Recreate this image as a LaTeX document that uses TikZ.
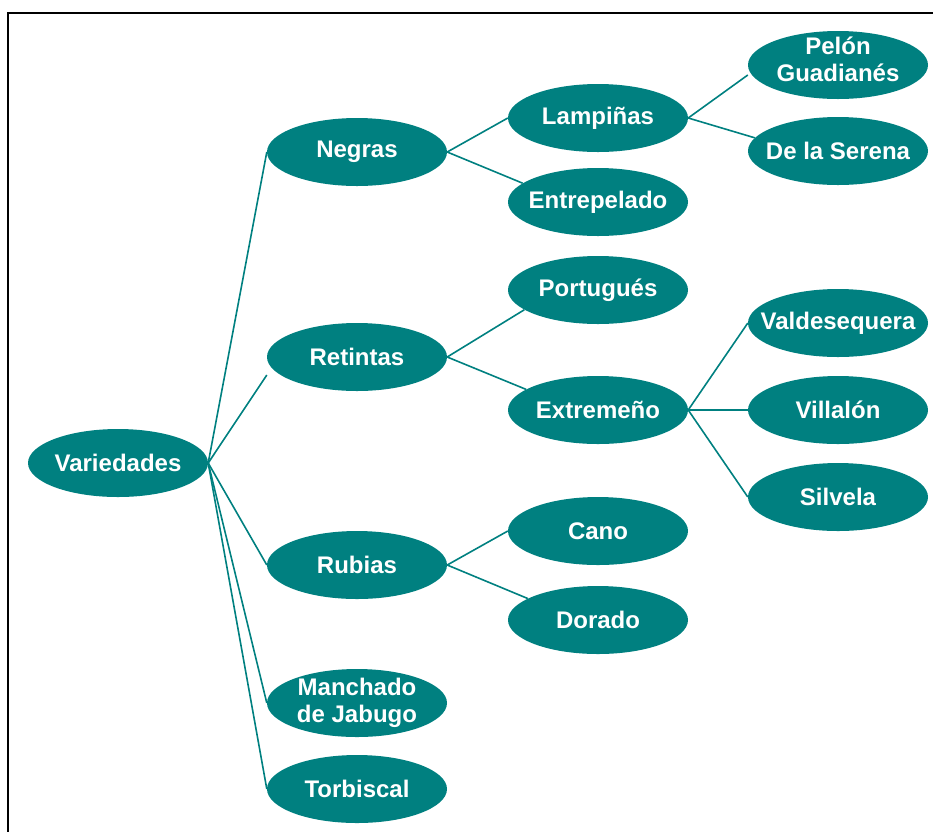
\documentclass[tikz,border=0pt]{standalone}
\usepackage{fontspec}
\setmainfont{Liberation Sans}
\usetikzlibrary{shapes.geometric,backgrounds}
\definecolor{tealc}{RGB}{0,128,128}
\tikzset{
  vtext/.style={text=white, align=center, inner sep=0pt,
    font=\fontsize{24pt}{27pt}\selectfont\bfseries},
  vnode/.style={vtext, ellipse, fill=tealc, draw=none, minimum width=180pt, minimum height=68pt,
    inner xsep=-30pt, inner ysep=-12pt},
  conn/.style={draw=tealc, line width=1.6pt}
}
\begin{document}
\begin{tikzpicture}[x=1pt,y=-1pt]
\useasboundingbox (0,0) rectangle (933,831);
\clip (0,0) rectangle (933,831);
\draw[line width=1.6pt] (8,13) rectangle (960,860);
\node[vnode] (var) at (118,463) {Variedades};
\node[vnode] (neg) at (357,152) {Negras};
\node[vnode] (ret) at (357,357) {Retintas};
\node[vnode] (rub) at (357,565) {Rubias};
\node[vnode] (man) at (357,703) {Manchado\\de Jabugo};
\node[vnode] (tor) at (357,789) {Torbiscal};
\node[vnode] (lam) at (598,118) {Lampiñas};
\node[vnode] (ent) at (598,202) {Entrepelado};
\node[vnode] (por) at (598,290) {Portugués};
\node[vnode] (ext) at (598,410) {Extremeño};
\node[vnode] (can) at (598,531) {Cano};
\node[vnode] (dor) at (598,620) {Dorado};
\node[vnode] (pel) at (838,65) {};
\node[vtext] (pelt) at (838,59) {Pelón\\Guadianés};
\node[vnode] (ser) at (838,151) {De la Serena};
\node[vnode] (val) at (838,323) {Valdesequera};
\node[vnode] (vil) at (838,410) {Villalón};
\node[vnode] (sil) at (838,497) {Silvela};
\begin{pgfonlayer}{background}
\draw[conn] (var.east) -- (neg.west);
\draw[conn] (var.east) -- ([yshift=-18pt]ret.west);
\foreach \c in {rub,man,tor} \draw[conn] (var.east) -- (\c.west);
\draw[conn] (neg.east) -- (lam.west);
\draw[conn] (neg.east) -- (ent.166);
\draw[conn] (ret.east) -- (por.195);
\draw[conn] (ret.east) -- (ext.164);
\draw[conn] (rub.east) -- (can.west);
\draw[conn] (rub.east) -- (dor.163);
\draw[conn] (lam.east) -- ([yshift=-10pt]pel.west);
\draw[conn] (lam.east) -- (ser.171);
\foreach \c in {val,vil,sil} \draw[conn] (ext.east) -- (\c.west);
\end{pgfonlayer}
\end{tikzpicture}
\end{document}
